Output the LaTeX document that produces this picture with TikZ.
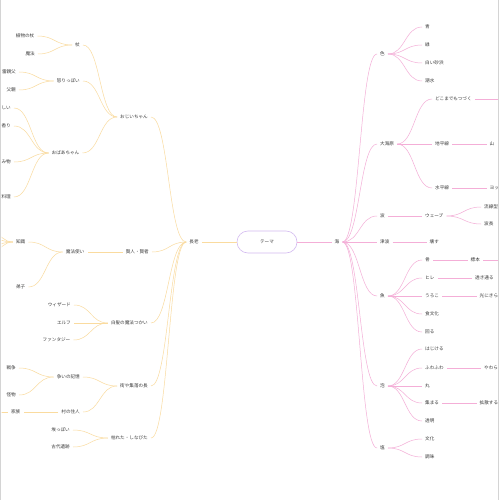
\documentclass[tikz,border=0pt]{standalone}
\usepackage{fontspec}
\newfontfamily\jp{Noto Sans CJK JP}
\usetikzlibrary{calc}
\definecolor{ylw}{HTML}{FADB9F}
\definecolor{pnk}{HTML}{F4AED7}
\definecolor{lav}{HTML}{D3BAF0}
\definecolor{txt}{HTML}{3A3A3A}
\definecolor{edgec}{HTML}{D4D4D4}
\begin{document}
\begin{tikzpicture}[x=1pt,y=-1pt,
  lbl/.style={font=\jp\fontsize{4.6}{5}\selectfont, text=txt, inner xsep=3pt, inner ysep=1pt},
  L/.style={lbl, anchor=east},
  R/.style={lbl, anchor=west},
  yl/.style={draw=ylw, line width=0.5pt},
  pk/.style={draw=pnk, line width=0.5pt},
  hc/.style={to path={let \p1=(\tikztostart), \p2=(\tikztotarget) in .. controls ({0.5*\x1+0.5*\x2},\y1) and ({0.5*\x1+0.5*\x2},\y2) .. (\tikztotarget)}},
  theme/.style={lbl, draw=lav, line width=0.6pt, rounded corners=11pt, minimum width=60pt, minimum height=22pt}
]
\useasboundingbox (0,0) rectangle (500,500);
\fill[white] (0,0) rectangle (500,500);
\begin{scope}
\clip (1.5,0) rectangle (498,500);
% centre
\node[theme] (c) at (267,242) {テーマ};
\node[lbl] (n0) at (194,242) {長老};
\node[lbl] (b0) at (337,242) {海};
% left level 1
\node[L] (a1) at (151,117) {おじいちゃん};
\node[L] (a2) at (152,252) {賢人・賢者};
\node[L] (a3) at (151,323) {白髪の魔法つかい};
\node[L] (a4) at (151,386) {街や集落の長};
\node[L] (a5) at (151,438) {枯れた・しなびた};
% left level 2
\node[L] (a11) at (83,45) {杖};
\node[L] (a12) at (83,81) {怒りっぽい};
\node[L] (a13) at (82.5,153) {おばあちゃん};
\node[L] (a21) at (87.5,252) {魔法使い};
\node[L] (a31) at (74,305) {ウィザード};
\node[L] (a32) at (74,323) {エルフ};
\node[L] (a33) at (73.5,340) {ファンタジー};
\node[L] (a41) at (83,377) {争いの記憶};
\node[L] (a42) at (83,412) {村の住人};
\node[L] (a51) at (73,430) {埃っぽい};
\node[L] (a52) at (73,447) {古代遺跡};
% left level 3
\node[L] (a111) at (37.5,36) {植物の杖};
\node[L] (a112) at (38,54) {魔法};
\node[L] (a121) at (19,72) {雷親父};
\node[L] (a122) at (19,90) {父親};
\node[L] (a131) at (14,108) {しい};
\node[L] (a132) at (14,126) {香り};
\node[L] (a133) at (14,162) {み物};
\node[L] (a134) at (14,197) {料理};
\node[L] (a211) at (28.5,242) {知識};
\node[L] (a212) at (28.5,287) {弟子};
\node[L] (a411) at (19,368) {戦争};
\node[L] (a412) at (19,395) {怪物};
\node[L] (a421) at (23.5,412) {家族};
\coordinate (k1) at (-22,216);
\coordinate (k2) at (-22,233);
\coordinate (k3) at (-22,251);
\coordinate (k4) at (-22,268);
\coordinate (f1) at (-30,412);
% right level 1
\node[R] (b1) at (377,54) {色};
\node[R] (b2) at (377,144) {大海原};
\node[R] (b3) at (377,216) {波};
\node[R] (b4) at (377,242) {津波};
\node[R] (b5) at (377,296) {魚};
\node[R] (b6) at (377,386) {泡};
\node[R] (b7) at (377,448) {塩};
% right level 2
\node[R] (b11) at (422,27) {青};
\node[R] (b12) at (422,45) {緑};
\node[R] (b13) at (422,63) {白い砂浜};
\node[R] (b14) at (422,81) {潮水};
\node[R] (b21) at (432,99) {どこまでもつづく};
\node[R] (b22) at (432,144) {地平線};
\node[R] (b23) at (432,188) {水平線};
\node[R] (b31) at (422,216) {ウェーブ};
\node[R] (b41) at (426.5,242) {壊す};
\node[R] (b51) at (422,260) {骨};
\node[R] (b52) at (422,278) {ヒレ};
\node[R] (b53) at (422,296) {うろこ};
\node[R] (b54) at (422,314) {食文化};
\node[R] (b55) at (422,332) {回る};
\node[R] (b61) at (422,349) {はじける};
\node[R] (b62) at (422,368) {ふわふわ};
\node[R] (b63) at (422,386) {丸};
\node[R] (b64) at (422,403) {集まる};
\node[R] (b65) at (422,421) {透明};
\node[R] (b71) at (422,439) {文化};
\node[R] (b72) at (422,457) {調味};
% right level 3
\node[R] (b221) at (486.5,144) {山};
\node[R] (b231) at (486.5,188) {ヨッ};
\node[R] (b311) at (481,207) {流線型};
\node[R] (b312) at (481,224) {波長};
\node[R] (b511) at (467.5,260) {標本};
\node[R] (b521) at (472,278) {透き通る};
\node[R] (b531) at (476.5,296) {光にきら};
\node[R] (b621) at (481,368) {やわら};
\node[R] (b641) at (476.5,403) {拡散する};
\coordinate (e1) at (530,99);
\coordinate (e2) at (530,260);
% connectors centre
\draw[yl] (n0.east) -- (c.west);
\draw[pk] (c.east) -- (b0.west);
% left connectors
\foreach \t in {a1,a2,a3,a4,a5} \draw[yl] (n0.west) to[hc] (\t.east);
\foreach \t in {a11,a12,a13} \draw[yl] (a1.west) to[hc] (\t.east);
\draw[yl] (a2.west) to[hc] (a21.east);
\foreach \t in {a31,a32,a33} \draw[yl] (a3.west) to[hc] (\t.east);
\foreach \t in {a41,a42} \draw[yl] (a4.west) to[hc] (\t.east);
\foreach \t in {a51,a52} \draw[yl] (a5.west) to[hc] (\t.east);
\foreach \t in {a111,a112} \draw[yl] (a11.west) to[hc] (\t.east);
\foreach \t in {a121,a122} \draw[yl] (a12.west) to[hc] (\t.east);
\foreach \t in {a131,a132,a133,a134} \draw[yl] (a13.west) to[hc] (\t.east);
\foreach \t in {a211,a212} \draw[yl] (a21.west) to[hc] (\t.east);
\foreach \t in {a411,a412} \draw[yl] (a41.west) to[hc] (\t.east);
\draw[yl] (a42.west) to[hc] (a421.east);
\foreach \t in {k1,k2,k3,k4} \draw[yl] (a211.west) to[hc] (\t);
\draw[yl] (a421.west) -- (f1);
% right connectors
\foreach \t in {b1,b2,b3,b4,b5,b6,b7} \draw[pk] (b0.east) to[hc] (\t.west);
\foreach \t in {b11,b12,b13,b14} \draw[pk] (b1.east) to[hc] (\t.west);
\foreach \t in {b21,b22,b23} \draw[pk] (b2.east) to[hc] (\t.west);
\draw[pk] (b3.east) to[hc] (b31.west);
\draw[pk] (b4.east) to[hc] (b41.west);
\foreach \t in {b51,b52,b53,b54,b55} \draw[pk] (b5.east) to[hc] (\t.west);
\foreach \t in {b61,b62,b63,b64,b65} \draw[pk] (b6.east) to[hc] (\t.west);
\foreach \t in {b71,b72} \draw[pk] (b7.east) to[hc] (\t.west);
\draw[pk] (b22.east) -- (b221.west);
\draw[pk] (b23.east) -- (b231.west);
\foreach \t in {b311,b312} \draw[pk] (b31.east) to[hc] (\t.west);
\draw[pk] (b51.east) -- (b511.west);
\draw[pk] (b52.east) -- (b521.west);
\draw[pk] (b53.east) -- (b531.west);
\draw[pk] (b62.east) -- (b621.west);
\draw[pk] (b64.east) -- (b641.west);
\draw[pk] (b21.east) -- (e1);
\draw[pk] (b511.east) -- (e2);
\end{scope}
\draw[edgec, line width=0.8pt] (0.8,0) -- (0.8,500);
\draw[edgec, line width=0.8pt] (498.6,0) -- (498.6,500);
\end{tikzpicture}
\end{document}
